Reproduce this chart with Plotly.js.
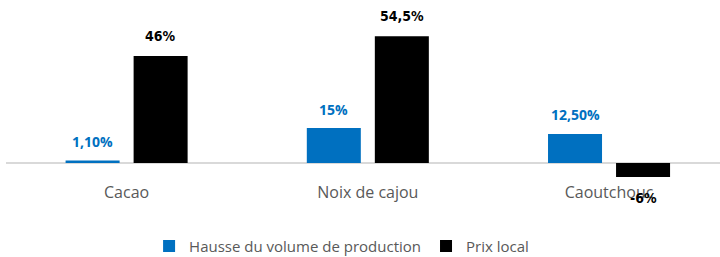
<!DOCTYPE html>
<html><head><meta charset="utf-8">
<script src="https://cdn.plot.ly/plotly-3.0.1.min.js"></script>
<style>html,body{margin:0;padding:0;background:#fff}#chart{width:720px;height:257px}</style>
</head><body><div id="chart"></div>
<script>
const categories = ["Cacao", "Noix de cajou", "Caoutchouc"];
const seriesNames = ["Hausse du volume de production", "Prix local"];
const volumeValues = [1.10, 15, 12.5];
const prixValues = [46, 54.5, -6];
const volumeLabels = ["1,10%", "15%", "12,50%"];
const prixLabels = ["46%", "54,5%", "-6%"];

const blue = "#0070C0", black = "#000000", gray = "#595959";
const baseFont = "Open Sans, Roboto, sans-serif";
const narrowFont = "Liberation Sans Narrow, DejaVu Sans Condensed, Arial Narrow, sans-serif";

const traces = [
  {type: "bar", name: seriesNames[0], x: categories, y: volumeValues, marker: {color: blue}, hoverinfo: "none"},
  {type: "bar", name: seriesNames[1], x: categories, y: prixValues, marker: {color: black}, hoverinfo: "none"}
];

const annotations = [];
categories.forEach((c, i) => {
  annotations.push({x: c, y: volumeValues[i], text: "<b>" + volumeLabels[i] + "</b>", showarrow: false,
    xshift: -34, yshift: volumeValues[i] >= 0 ? 19 : -21, font: {family: baseFont, size: 14, color: blue}});
  annotations.push({x: c, y: prixValues[i], text: "<b>" + prixLabels[i] + "</b>", showarrow: false,
    xshift: 34, yshift: prixValues[i] >= 0 ? 20 : -21, font: {family: narrowFont, size: 14, color: black}});
});

const layout = {
  width: 720, height: 257,
  margin: {l: 6, r: 0, t: 0, b: 75},
  paper_bgcolor: "#fff", plot_bgcolor: "#fff",
  barmode: "group", bargap: 0.436, bargroupgap: 0.206,
  showlegend: true,
  legend: {orientation: "h", xref: "paper", x: 0.47, xanchor: "center", yref: "container", y: 0.042, yanchor: "middle",
    font: {family: baseFont, size: 15, color: gray}, traceorder: "normal"},
  xaxis: {type: "category", range: [-0.5, 2.46], showgrid: false, showline: false, zeroline: false, ticks: "",
    tickfont: {family: baseFont, size: 16, color: gray}, ticklabelstandoff: -1, fixedrange: true},
  yaxis: {range: [-8.17, 70.08], showgrid: false, showline: false, showticklabels: false, ticks: "",
    zeroline: true, zerolinecolor: "#d9d9d9", zerolinewidth: 1.5, fixedrange: true},
  annotations: annotations
};

Plotly.newPlot("chart", traces, layout, {displayModeBar: false, staticPlot: true});
</script>
</body></html>
